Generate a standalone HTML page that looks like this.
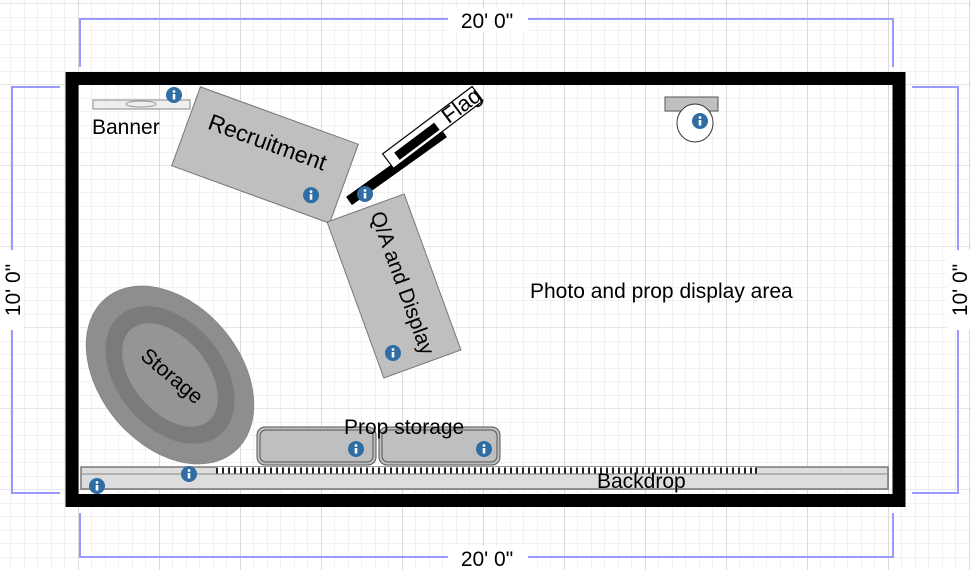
<!DOCTYPE html>
<html><head><meta charset="utf-8"><style>
html,body{margin:0;padding:0;background:#fff}
svg{display:block;font-family:"Liberation Sans",sans-serif}
</style></head><body>
<svg width="971" height="570" viewBox="0 0 971 570" xmlns="http://www.w3.org/2000/svg">
<defs>
<pattern id="minor" width="13.5" height="13.5" patternUnits="userSpaceOnUse" x="11" y="4">
<path d="M13.5 0V13.5M0 13.5H13.5" stroke="#e6e6e6" stroke-width="1" fill="none"/>
</pattern>
<pattern id="major" width="81" height="81" patternUnits="userSpaceOnUse" x="79" y="4">
<path d="M81 0V81M0 81H81" stroke="#cfcfcf" stroke-width="1" fill="none"/>
</pattern>
<g id="info"><circle r="8" fill="#2f6da3"/><circle cy="-3.5" r="1.4" fill="#fff"/><rect x="-1.3" y="-1" width="2.6" height="5.5" fill="#fff"/></g>
</defs>
<rect width="971" height="570" fill="url(#minor)"/>
<rect width="971" height="570" fill="url(#major)"/>
<g stroke="#9999ff" stroke-width="2" fill="none">
<path d="M80 67V19H893V67"/>
<path d="M80 513V557H893V513"/>
<path d="M60 87H12V493H60"/>
<path d="M912 87H958V493H912"/>
</g>
<g font-size="21" fill="#000">
<rect x="448" y="8" width="80" height="24" fill="#fff"/>
<text x="487" y="28" text-anchor="middle">20' 0"</text>
<rect x="448" y="546" width="80" height="24" fill="#fff"/>
<text x="487" y="566" text-anchor="middle">20' 0"</text>
<rect x="0" y="250" width="24" height="80" fill="#fff"/>
<text transform="translate(20,290) rotate(-90)" text-anchor="middle">10' 0"</text>
<rect x="947" y="250" width="24" height="80" fill="#fff"/>
<text transform="translate(967,290) rotate(-90)" text-anchor="middle">10' 0"</text>
</g>
<rect x="72" y="78.5" width="827" height="422" fill="none" stroke="#000" stroke-width="13"/>
<rect x="93" y="100" width="97" height="9" fill="#eee" stroke="#888"/>
<ellipse cx="141" cy="104" rx="15" ry="3" fill="none" stroke="#999"/>
<use href="#info" x="174" y="95"/>
<text x="92" y="134" font-size="21">Banner</text>
<g transform="translate(265,155) rotate(20)">
<rect x="-84" y="-42" width="168" height="84" fill="#bfbfbf" stroke="#777"/>
<text x="-2" y="-5" font-size="23" text-anchor="middle">Recruitment</text>
<use href="#info" x="57" y="22" transform="rotate(-20 57 22)"/>
</g>
<path d="M349 201L444 133" stroke="#000" stroke-width="10"/>
<g transform="translate(432,128) rotate(-37)">
<rect x="-55" y="-9" width="112" height="18" fill="#fff" stroke="#000" stroke-width="1.2"/>
<rect x="-45" y="-3" width="50" height="9" fill="#000"/>
<text x="37" y="7" font-size="22" text-anchor="middle">Flag</text>
</g>
<use href="#info" x="365" y="194"/>
<g transform="translate(394,286) rotate(-20)">
<rect x="-41" y="-83" width="82" height="166" fill="#bfbfbf" stroke="#777"/>
<text transform="rotate(90)" x="0" y="-2" font-size="21" text-anchor="middle">Q/A and Display</text>
</g>
<use href="#info" x="393" y="353"/>
<rect x="665" y="97" width="53" height="14" fill="#bfbfbf" stroke="#555"/>
<ellipse cx="695" cy="123" rx="18" ry="19" fill="#fff" stroke="#333"/>
<use href="#info" x="700" y="121"/>
<text x="530" y="298" font-size="21">Photo and prop display area</text>
<g transform="translate(170,375) rotate(50)">
<ellipse rx="100" ry="70" fill="#8e8e8e" stroke="#888"/>
<ellipse rx="78" ry="53" fill="#7b7b7b"/>
<ellipse rx="60" ry="37" fill="#959595"/>
</g>
<text transform="translate(172,376) rotate(40)" font-size="21" text-anchor="middle" y="7">Storage</text>
<rect x="81" y="467" width="807" height="22" fill="#ddd" stroke="#666" stroke-width="1.3"/>
<line x1="81" y1="474" x2="888" y2="474" stroke="#888"/>
<rect x="216" y="467" width="540" height="6" fill="#fff"/>
<path d="M217 467.5V473.5M223 467.5V473.5M229 467.5V473.5M235 467.5V473.5M241 467.5V473.5M247 467.5V473.5M253 467.5V473.5M259 467.5V473.5M265 467.5V473.5M271 467.5V473.5M277 467.5V473.5M283 467.5V473.5M289 467.5V473.5M295 467.5V473.5M301 467.5V473.5M307 467.5V473.5M313 467.5V473.5M319 467.5V473.5M325 467.5V473.5M331 467.5V473.5M337 467.5V473.5M343 467.5V473.5M349 467.5V473.5M355 467.5V473.5M361 467.5V473.5M367 467.5V473.5M373 467.5V473.5M379 467.5V473.5M385 467.5V473.5M391 467.5V473.5M397 467.5V473.5M403 467.5V473.5M409 467.5V473.5M415 467.5V473.5M421 467.5V473.5M427 467.5V473.5M433 467.5V473.5M439 467.5V473.5M445 467.5V473.5M451 467.5V473.5M457 467.5V473.5M463 467.5V473.5M469 467.5V473.5M475 467.5V473.5M481 467.5V473.5M487 467.5V473.5M493 467.5V473.5M499 467.5V473.5M505 467.5V473.5M511 467.5V473.5M517 467.5V473.5M523 467.5V473.5M529 467.5V473.5M535 467.5V473.5M541 467.5V473.5M547 467.5V473.5M553 467.5V473.5M559 467.5V473.5M565 467.5V473.5M571 467.5V473.5M577 467.5V473.5M583 467.5V473.5M589 467.5V473.5M595 467.5V473.5M601 467.5V473.5M607 467.5V473.5M613 467.5V473.5M619 467.5V473.5M625 467.5V473.5M631 467.5V473.5M637 467.5V473.5M643 467.5V473.5M649 467.5V473.5M655 467.5V473.5M661 467.5V473.5M667 467.5V473.5M673 467.5V473.5M679 467.5V473.5M685 467.5V473.5M691 467.5V473.5M697 467.5V473.5M703 467.5V473.5M709 467.5V473.5M715 467.5V473.5M721 467.5V473.5M727 467.5V473.5M733 467.5V473.5M739 467.5V473.5M745 467.5V473.5M751 467.5V473.5M756 467.5V473.5" stroke="#222" stroke-width="2"/>
<text x="597" y="488" font-size="21">Backdrop</text>
<use href="#info" x="97" y="486"/>
<use href="#info" x="189" y="474"/>
<rect x="257" y="427" width="119" height="38" rx="8" fill="#bfbfbf" stroke="#555"/>
<rect x="260" y="430" width="113" height="32" rx="6" fill="none" stroke="#555"/>
<rect x="379" y="427" width="121" height="38" rx="8" fill="#bfbfbf" stroke="#555"/>
<rect x="382" y="430" width="115" height="32" rx="6" fill="none" stroke="#555"/>
<use href="#info" x="356" y="449"/>
<use href="#info" x="484" y="449"/>
<text x="344" y="434" font-size="21">Prop storage</text>
</svg>
</body></html>
